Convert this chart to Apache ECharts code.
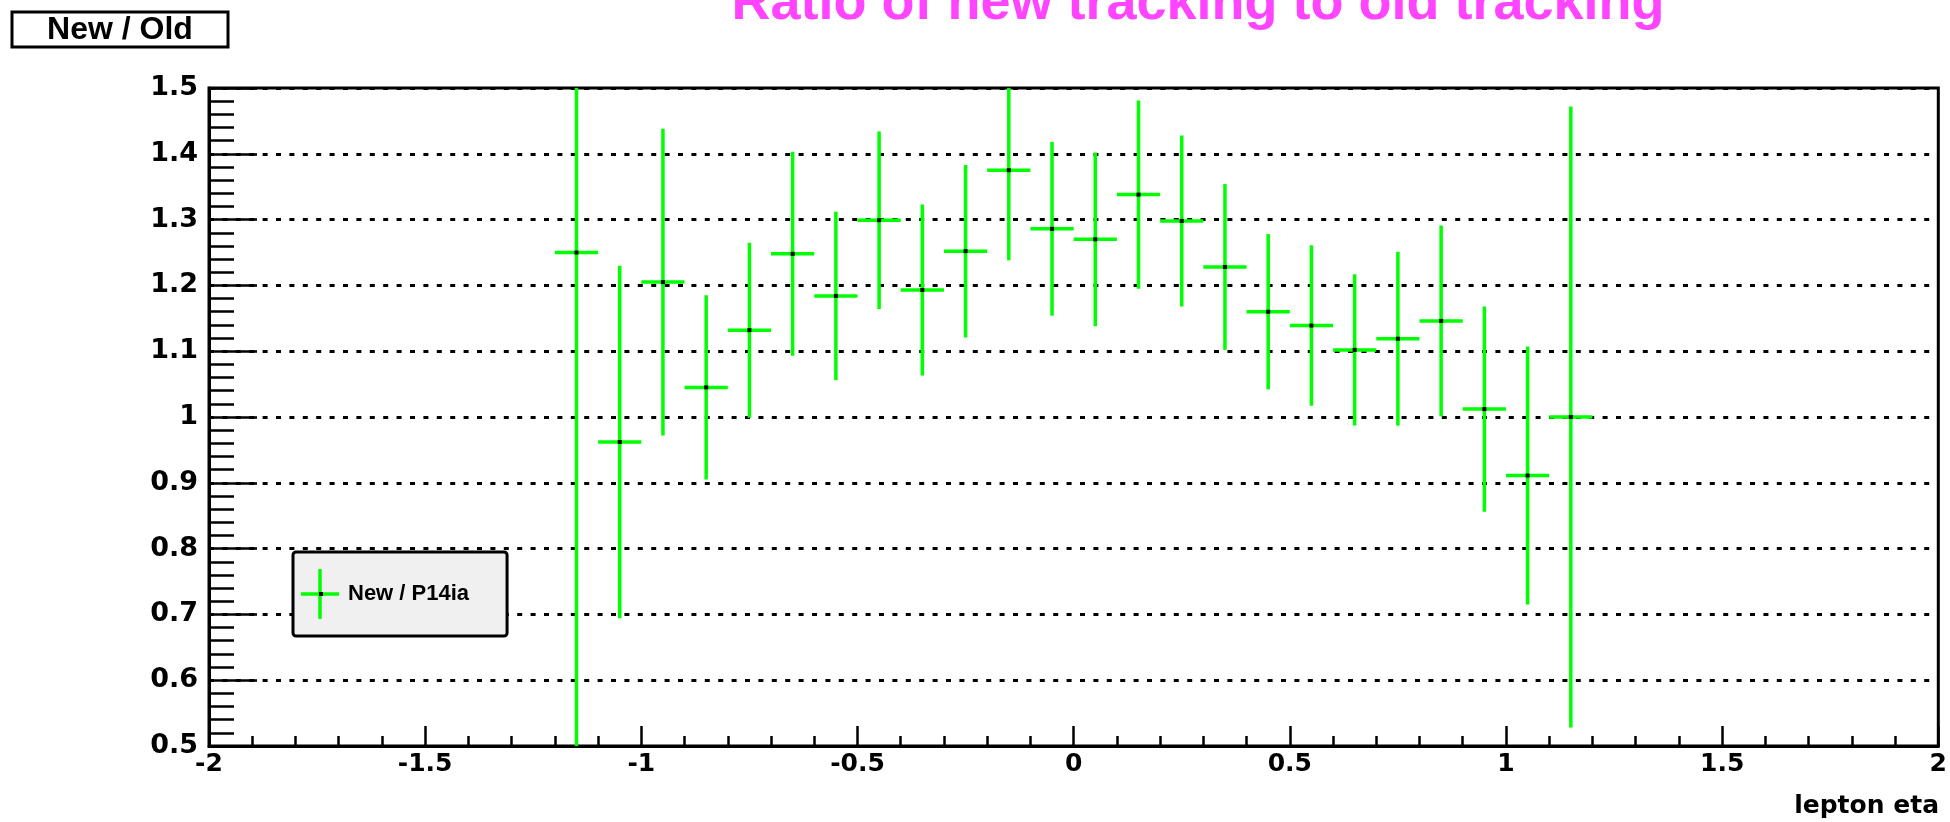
<!DOCTYPE html>
<html>
<head>
<meta charset="utf-8">
<script src="https://cdn.jsdelivr.net/npm/echarts@6.0.0/dist/echarts.min.js"></script>
<style>
  html, body { margin: 0; padding: 0; background: #fff; }
  #chart { width: 1950px; height: 822px; }
</style>
</head>
<body>
<div id="chart"></div>
<script>
// lepton eta bin centres (bins 0.1 wide)
const etaBins = [-1.15, -1.05, -0.95, -0.85, -0.75, -0.65, -0.55, -0.45, -0.35, -0.25, -0.15, -0.05,
                 0.05, 0.15, 0.25, 0.35, 0.45, 0.55, 0.65, 0.75, 0.85, 0.95, 1.05, 1.15];
const binHalfWidth = 0.05;
// New / P14ia ratio and its error
const ratio = [1.250, 0.962, 1.205, 1.045, 1.132, 1.248, 1.184, 1.299, 1.193, 1.252, 1.375, 1.286,
               1.270, 1.338, 1.298, 1.228, 1.160, 1.139, 1.102, 1.119, 1.146, 1.012, 0.911, 1.000];
const ratioErr = [0.800, 0.268, 0.233, 0.140, 0.133, 0.155, 0.128, 0.135, 0.130, 0.131, 0.137, 0.132,
                  0.132, 0.143, 0.130, 0.126, 0.118, 0.122, 0.115, 0.132, 0.145, 0.156, 0.196, 0.472];

const seriesName = 'New / P14ia';
const green = '#00ff00';
const font = 'Liberation Sans, Arial, Helvetica, sans-serif';
const wideFont = 'DejaVu Sans, Liberation Sans, sans-serif';

let points = etaBins.map((x, i) => [x, ratio[i], ratioErr[i], binHalfWidth]);

function renderErrorBar(params, api) {
    let x = api.value(0), y = api.value(1), e = api.value(2), hw = api.value(3);
    let c = api.coord([x, y]);
    let top = api.coord([x, y + e]);
    let bot = api.coord([x, y - e]);
    let left = api.coord([x - hw, y]);
    let right = api.coord([x + hw, y]);
    let lineStyle = { stroke: green, lineWidth: 3.5 };
    return {
        type: 'group',
        children: [
            { type: 'line', shape: { x1: c[0], y1: top[1], x2: c[0], y2: bot[1] }, style: lineStyle },
            { type: 'line', shape: { x1: left[0], y1: c[1], x2: right[0], y2: c[1] }, style: lineStyle },
            { type: 'rect', shape: { x: c[0] - 2, y: c[1] - 2, width: 4, height: 4 }, style: { fill: '#000' } }
        ]
    };
}

let chart = echarts.init(document.getElementById('chart'));
chart.setOption({
    animation: false,
    backgroundColor: '#fff',
    graphic: [
        {
            type: 'text',
            x: 1198, y: -23,
            style: {
                text: 'Ratio of new tracking to old tracking',
                fill: '#ff44ff',
                font: 'bold 54px ' + font,
                align: 'center',
                verticalAlign: 'top'
            }
        },
        {
            type: 'rect',
            shape: { x: 12, y: 12, width: 216, height: 35 },
            style: { fill: '#fff', stroke: '#000', lineWidth: 3 }
        },
        {
            type: 'text',
            x: 120, y: 30,
            style: {
                text: 'New / Old',
                fill: '#000',
                font: 'bold 32px ' + font,
                align: 'center',
                verticalAlign: 'middle'
            }
        },
        {
            type: 'text',
            x: 1939, y: 806,
            style: {
                text: 'lepton eta',
                fill: '#000',
                font: 'bold 25px ' + wideFont,
                align: 'right',
                verticalAlign: 'middle'
            }
        },
        {
            // marker dot of the legend cross
            type: 'rect',
            z: 100,
            shape: { x: 319, y: 592, width: 4, height: 4 },
            style: { fill: '#000' }
        }
    ],
    legend: {
        data: [seriesName],
        left: 293,
        top: 552,
        orient: 'vertical',
        backgroundColor: '#f0f0f0',
        borderColor: '#000',
        borderWidth: 3,
        borderRadius: 3,
        padding: [17, 38, 17, 8],
        itemWidth: 38,
        itemHeight: 50,
        icon: 'path://M0,23.25h38v3.5h-38z M17.25,0h3.5v50h-3.5z',
        textStyle: {
            fontSize: 22,
            fontWeight: 'bold',
            fontFamily: font,
            color: '#000',
            padding: [0, 0, 0, 4]
        }
    },
    grid: {
        left: 209,
        right: 10,
        top: 88,
        bottom: 76,
        show: true,
        borderColor: '#000',
        borderWidth: 3,
        backgroundColor: 'transparent'
    },
    xAxis: {
        type: 'value',
        min: -2,
        max: 2,
        interval: 0.5,
        axisLine: { onZero: false, lineStyle: { color: '#000', width: 3 } },
        axisTick: { inside: true, length: 20, lineStyle: { color: '#000', width: 2.5 } },
        minorTick: { show: true, splitNumber: 5, length: 10, lineStyle: { color: '#000', width: 2.5 } },
        splitLine: { show: false },
        axisLabel: {
            margin: 6,
            color: '#000',
            fontSize: 25,
            fontWeight: 'bold',
            fontFamily: wideFont
        }
    },
    yAxis: {
        type: 'value',
        min: 0.5,
        max: 1.5,
        interval: 0.1,
        axisLine: { onZero: false, lineStyle: { color: '#000', width: 3 } },
        axisTick: { inside: true, length: 48, lineStyle: { color: '#000', width: 2.5 } },
        minorTick: { show: true, splitNumber: 5, length: 25, lineStyle: { color: '#000', width: 2.5 } },
        splitLine: { show: true, lineStyle: { color: '#000', width: 3, type: [5, 8.4] } },
        axisLabel: {
            margin: 11,
            color: '#000',
            fontSize: 27,
            fontWeight: 'bold',
            fontFamily: wideFont
        }
    },
    series: [{
        name: seriesName,
        type: 'custom',
        clip: true,
        itemStyle: { color: green },
        encode: { x: 0, y: 1 },
        renderItem: renderErrorBar,
        data: points
    }]
});
</script>
</body>
</html>
